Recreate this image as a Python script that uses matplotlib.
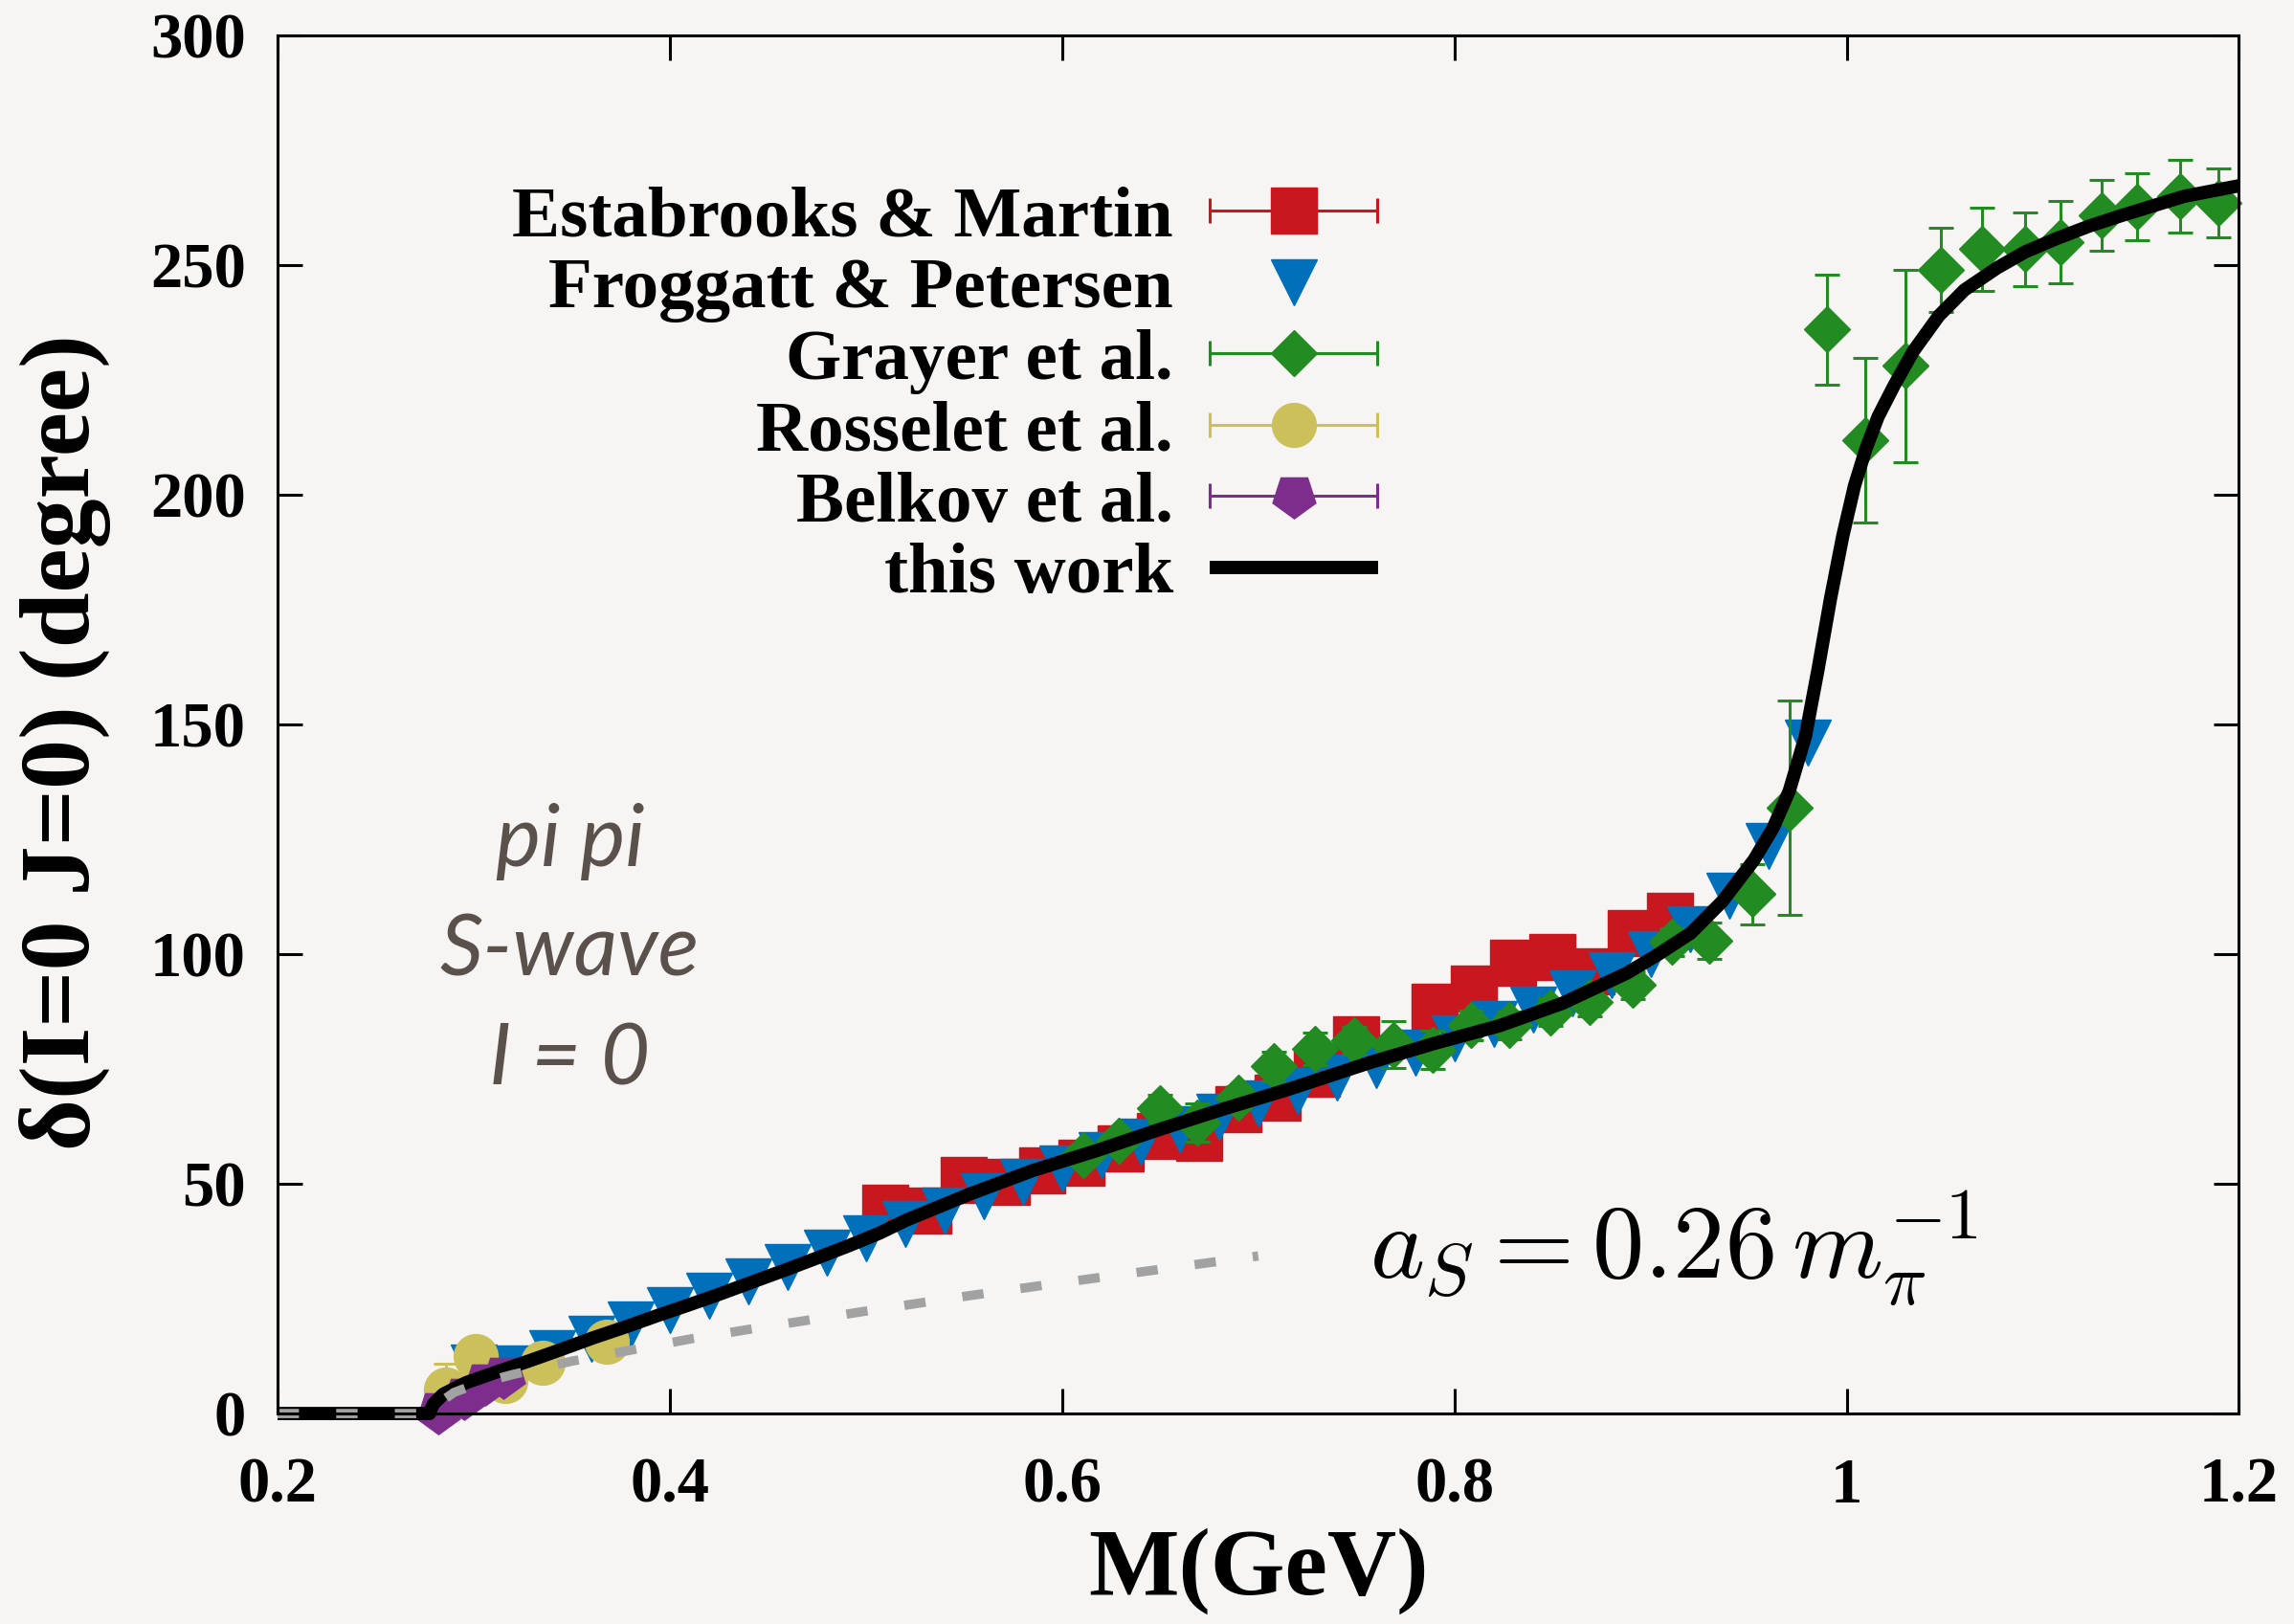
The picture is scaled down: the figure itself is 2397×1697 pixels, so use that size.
import numpy as np
import matplotlib
matplotlib.use("Agg")
import matplotlib.pyplot as plt
from matplotlib.container import ErrorbarContainer
from matplotlib.legend_handler import HandlerErrorbar
from matplotlib.lines import Line2D

plt.rcParams['font.family'] = ['Liberation Serif', 'DejaVu Serif']
plt.rcParams['mathtext.fontset'] = 'cm'

# Estabrooks & Martin
em_m = [0.510, 0.532, 0.550, 0.572, 0.590, 0.610, 0.630, 0.650, 0.670, 0.690,
        0.710, 0.730, 0.750, 0.790, 0.810, 0.830, 0.850, 0.870, 0.890, 0.910]
em_d = [44.8, 44.2, 50.8, 50.4, 52.9, 54.6, 57.7, 60.4, 60.1, 66.2,
        68.7, 74.0, 81.5, 88.5, 92.5, 98.1, 99.3, 96.2, 104.6, 108.3]
em_err = [2.0] * len(em_m)

# Froggatt & Petersen
fp_m = [0.30, 0.32, 0.34, 0.36, 0.38, 0.40, 0.42, 0.44, 0.46, 0.48, 0.50,
        0.52, 0.54, 0.56, 0.58, 0.60, 0.62, 0.64, 0.66, 0.68, 0.70, 0.72,
        0.74, 0.76, 0.78, 0.80, 0.82, 0.84, 0.86, 0.88, 0.90, 0.92, 0.94,
        0.96, 0.98]
fp_d = [10.0, 9.8, 13.2, 16.2, 19.4, 22.5, 25.6, 28.8, 31.9, 35.0, 38.1,
        41.3, 44.2, 47.3, 50.4, 53.3, 56.2, 59.2, 61.9, 64.6, 67.5, 70.3,
        73.1, 75.8, 78.6, 81.7, 84.8, 87.9, 91.5, 95.4, 100.0, 105.4, 112.7,
        123.5, 146.0]

# Grayer et al.
gr_m = [0.611, 0.629, 0.650, 0.669, 0.690, 0.708, 0.729, 0.749, 0.769, 0.789,
        0.8085, 0.828, 0.849, 0.869, 0.891, 0.911, 0.930, 0.952, 0.971, 0.990,
        1.0095, 1.030, 1.048, 1.069, 1.091, 1.109, 1.130, 1.148, 1.170, 1.1895]
gr_d = [56.2, 59.4, 66.4, 63.3, 68.8, 75.6, 79.4, 81.2, 80.3, 79.2,
        84.5, 84.5, 87.4, 89.5, 93.3, 102.7, 102.9, 113.1, 131.9, 236.0,
        211.9, 228.1, 249.0, 253.5, 253.5, 255.0, 260.8, 262.7, 265.0, 263.5]
gr_err = [2.0, 2.0, 3.0, 4.2, 2.5, 3.2, 3.5, 3.0, 5.1, 4.2,
          3.3, 3.0, 3.0, 3.0, 3.0, 3.0, 3.9, 6.6, 23.3, 12.0,
          18.0, 20.9, 9.1, 9.1, 8.0, 8.9, 7.7, 7.3, 7.9, 7.5]

# Rosselet et al.
ro_m = [0.286, 0.301, 0.316, 0.335, 0.368]
ro_d = [5.2, 12.5, 7.0, 11.0, 15.6]
ro_err = [5.6, 1.5, 1.5, 1.5, 1.5]

# Belkov et al.
be_m = [0.282, 0.295, 0.306, 0.315]
be_d = [0.4, 3.5, 6.7, 8.1]
be_err = [1.5, 1.5, 1.5, 1.5]

# this work
tw_m = [0.200, 0.2775, 0.2785, 0.2795, 0.2844, 0.296, 0.312, 0.3285, 0.345, 0.361,
        0.377, 0.3935, 0.410, 0.426, 0.4425, 0.4585, 0.4746, 0.491, 0.507, 0.5205,
        0.553, 0.585, 0.618, 0.650, 0.683, 0.7155, 0.7576, 0.790, 0.8228, 0.855,
        0.888, 0.904, 0.9205, 0.9366, 0.9527, 0.9625, 0.9707, 0.979, 0.9854, 0.9918,
        0.998, 1.004, 1.0098, 1.016, 1.0244, 1.034, 1.047, 1.060, 1.0766, 1.091,
        1.107, 1.1235, 1.140, 1.156, 1.172, 1.200]
tw_d = [0.0, 0.0, 1.2, 2.1, 4.2, 6.7, 9.1, 11.5, 14.0, 16.5,
        18.8, 21.3, 23.7, 26.1, 28.7, 31.2, 33.8, 36.5, 39.3, 42.1,
        47.8, 52.9, 57.3, 61.9, 66.4, 70.6, 76.5, 80.6, 84.4, 89.3,
        95.9, 100.0, 104.6, 111.5, 120.5, 127.5, 135.5, 147.5, 162.0, 177.5,
        191.0, 202.0, 210.0, 217.0, 224.0, 231.3, 239.0, 244.6, 249.4, 252.9,
        255.8, 258.5, 260.8, 262.9, 265.0, 267.3]

# scattering length line
sl_m = [0.2, 0.279, 0.283, 0.29, 0.30, 0.32, 0.35, 0.38, 0.41, 0.44, 0.47,
        0.50, 0.55, 0.60, 0.65, 0.70]
sl_d = [0.0, 0.0, 2.5, 4.6, 6.2, 8.5, 11.4, 13.8, 16.2, 18.3, 20.3,
        22.3, 25.5, 28.5, 31.4, 34.3]

xticks = [0.2, 0.4, 0.6, 0.8, 1.0, 1.2]
xticklabels = ['0.2', '0.4', '0.6', '0.8', '1', '1.2']
yticks = [0, 50, 100, 150, 200, 250, 300]

bg = '#f6f5f3'
c_red = '#c8171f'
c_blue = '#0070bb'
c_green = '#228b22'
c_yel = '#cbc05a'
c_pur = '#7d2e8c'
pent = (5, 0, 180)

fig = plt.figure(figsize=(23.97, 16.97), dpi=100, facecolor=bg)
ax = fig.add_axes([0.121, 0.1296, 0.855, 0.8485], facecolor=bg)

eb_kw = dict(linestyle='none', elinewidth=2.2, capsize=9.5, capthick=2.2, clip_on=False)

ax.errorbar(em_m, em_d, yerr=em_err, marker='s', color=c_red, ms=34, zorder=2, **eb_kw)
ax.plot(fp_m, fp_d, marker='v', color=c_blue, ms=35, linestyle='none', zorder=2.1, clip_on=False)
ax.errorbar(gr_m, gr_d, yerr=gr_err, marker='D', color=c_green, ms=24.5, zorder=2.2, **eb_kw)
ax.errorbar(ro_m, ro_d, yerr=ro_err, marker='o', color=c_yel, ms=33, zorder=2.3, **eb_kw)
ax.errorbar(be_m, be_d, yerr=be_err, marker=pent, color=c_pur, ms=34, zorder=2.4, **eb_kw)
tw_line, = ax.plot(tw_m, tw_d, color='black', lw=10, zorder=3, clip_on=False,
                   solid_capstyle='butt', solid_joinstyle='round')
ax.plot(sl_m, sl_d, color='#a2a2a2', lw=7, dashes=(2.3, 4.0), zorder=4, clip_on=False)

# legend handles (horizontal bars like the original)
leg_kw = dict(linestyle='none', elinewidth=2.2, capsize=9.5, capthick=2.2)
h_em = ax.errorbar([np.nan], [np.nan], xerr=[0.01], marker='s', color=c_red, ms=34, **leg_kw)
h_fp = Line2D([], [], marker='v', color=c_blue, ms=35, linestyle='none')
h_gr = ax.errorbar([np.nan], [np.nan], xerr=[0.01], marker='D', color=c_green, ms=24.5, **leg_kw)
h_ro = ax.errorbar([np.nan], [np.nan], xerr=[0.01], marker='o', color=c_yel, ms=33, **leg_kw)
h_be = ax.errorbar([np.nan], [np.nan], xerr=[0.01], marker=pent, color=c_pur, ms=34, **leg_kw)

labels = ['Estabrooks & Martin', 'Froggatt & Petersen', 'Grayer et al.',
          'Rosselet et al.', 'Belkov et al.', 'this work']
ax.legend([h_em, h_fp, h_gr, h_ro, h_be, tw_line], labels,
          loc='upper right', bbox_to_anchor=(0.561, 0.891), frameon=False,
          markerfirst=False, handlelength=2.35, handletextpad=0.5,
          labelspacing=0.08, borderpad=0, borderaxespad=0, numpoints=1,
          prop=dict(family='Liberation Serif', weight='bold', size=54),
          handler_map={ErrorbarContainer: HandlerErrorbar(xerr_size=1.17)})

txt_kw = dict(family='Lato', style='italic', fontsize=64, color='#5a514c',
              ha='center', va='center')
ax.text(0.349, 124.6, 'pi pi', **txt_kw)
ax.text(0.349, 100.6, 'S-wave', **txt_kw)
ax.text(0.349, 76.9, 'I = 0', **txt_kw)
ax.text(0.912, 29.6, r'$a_S = 0.26\,m_\pi^{-1}$', fontsize=78, ha='center',
        va='baseline')

ax.set_xlim(0.2, 1.2)
ax.set_ylim(0, 300)
ax.set_xticks(xticks)
ax.set_xticklabels(xticklabels)
ax.set_yticks(yticks)
ax.tick_params(direction='in', length=19, width=2.2, top=True, right=True,
               labelsize=48)
ax.tick_params(axis='x', pad=33)
ax.tick_params(axis='y', pad=24)
for lab in ax.get_xticklabels() + ax.get_yticklabels():
    lab.set_fontweight('bold')
for sp in ax.spines.values():
    sp.set_linewidth(2.2)
    sp.set_zorder(10)

ax.set_xlabel('M(GeV)', fontsize=72, fontweight='bold')
ax.set_ylabel('δ(I=0 J=0) (degree)', fontsize=75, fontweight='bold')
ax.xaxis.set_label_coords(0.5, -0.083)
ax.yaxis.set_label_coords(-0.085, 0.4875)

fig.savefig('out.png', dpi=100, facecolor=bg)
